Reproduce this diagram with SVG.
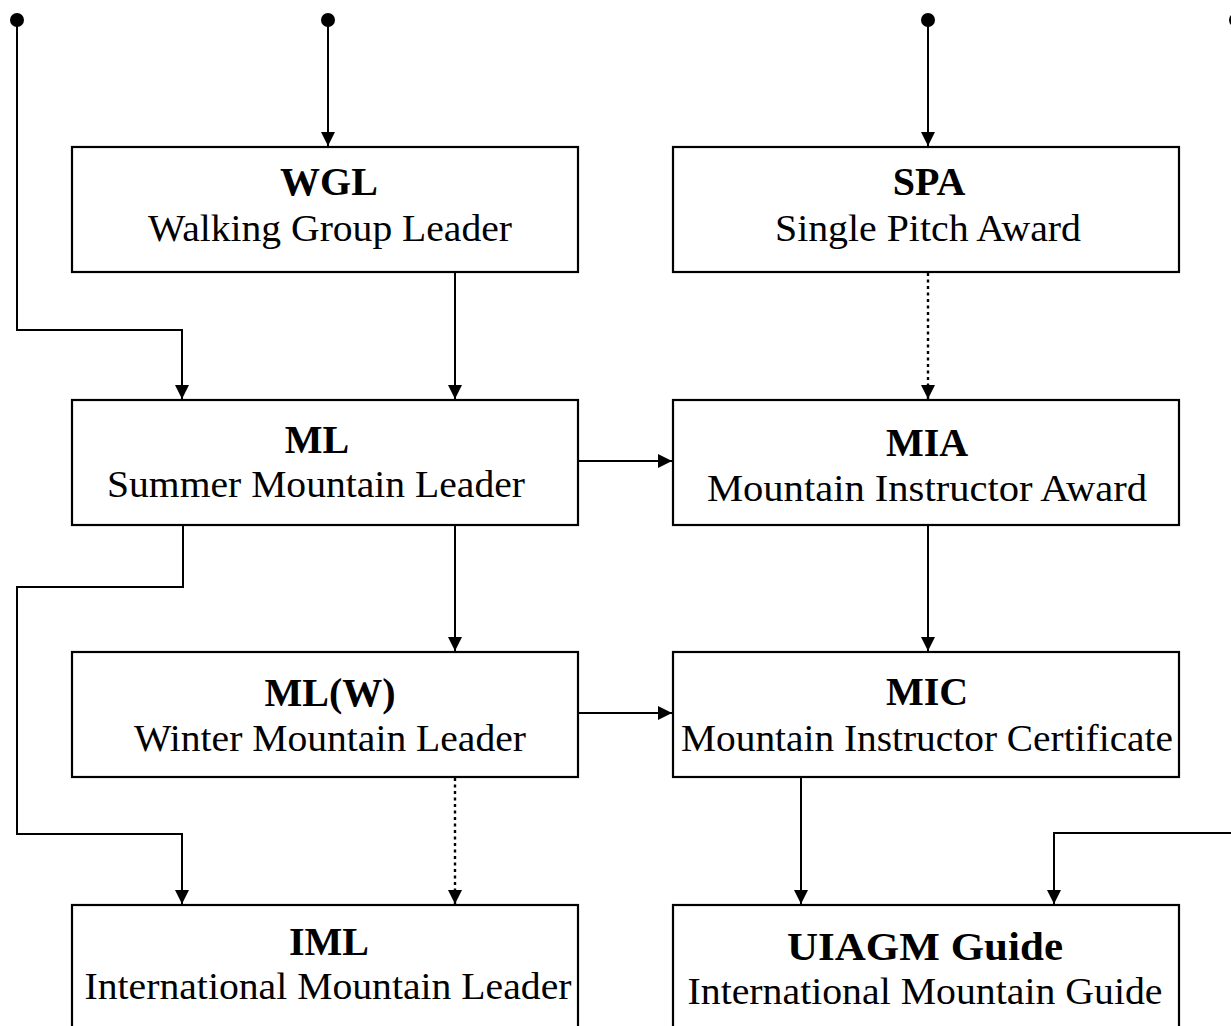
<svg xmlns="http://www.w3.org/2000/svg" width="1231" height="1026" viewBox="0 0 1231 1026">
<style>
.box{fill:#fff;stroke:#000;stroke-width:2.2}
.t{font-family:"Liberation Serif","Times New Roman",serif;font-weight:bold;font-size:40px;text-anchor:middle;fill:#000}
.s{font-family:"Liberation Serif","Times New Roman",serif;font-size:38px;text-anchor:middle;fill:#000}
.c{fill:none;stroke:#000;stroke-width:2}
.d{fill:none;stroke:#000;stroke-width:2.4;stroke-dasharray:3 3.5}
</style>
<defs>
<marker id="ah" viewBox="0 0 14 14" refX="14" refY="7" markerWidth="14" markerHeight="14" markerUnits="userSpaceOnUse" orient="auto">
<path d="M0,0 L14,7 L0,14 Z" fill="#000"/>
</marker>
</defs>
<rect width="1231" height="1026" fill="#fff"/>
<g id="connectors">
<circle cx="17" cy="20" r="7" fill="#000"/>
<circle cx="328" cy="20" r="7" fill="#000"/>
<circle cx="928" cy="20" r="7" fill="#000"/>
<circle cx="1236" cy="20" r="7" fill="#000"/>
<path class="c" d="M17,20 V330 H182 V399" marker-end="url(#ah)"/>
<path class="c" d="M328,20 V146" marker-end="url(#ah)"/>
<path class="c" d="M928,20 V146" marker-end="url(#ah)"/>
<path class="c" d="M455,272 V399" marker-end="url(#ah)"/>
<path class="d" d="M928,273 V399" marker-end="url(#ah)"/>
<path class="c" d="M578,461 H672" marker-end="url(#ah)"/>
<path class="c" d="M183,525 V587 H17 V834 H182 V904" marker-end="url(#ah)"/>
<path class="c" d="M455,525 V651" marker-end="url(#ah)"/>
<path class="c" d="M928,525 V651" marker-end="url(#ah)"/>
<path class="c" d="M578,713 H672" marker-end="url(#ah)"/>
<path class="d" d="M455,778 V904" marker-end="url(#ah)"/>
<path class="c" d="M801,777 V904" marker-end="url(#ah)"/>
<path class="c" d="M1231,833 H1054 V904" marker-end="url(#ah)"/>
</g>
<g id="WGL">
<rect class="box" x="72" y="147" width="506" height="125"/>
<text class="t" x="329" y="195">WGL</text>
<text class="s" x="330" y="241" textLength="364" lengthAdjust="spacingAndGlyphs">Walking Group Leader</text>
</g>
<g id="SPA">
<rect class="box" x="673" y="147" width="506" height="125"/>
<text class="t" x="929" y="195">SPA</text>
<text class="s" x="928" y="241" textLength="306" lengthAdjust="spacingAndGlyphs">Single Pitch Award</text>
</g>
<g id="ML">
<rect class="box" x="72" y="400" width="506" height="125"/>
<text class="t" x="317" y="453">ML</text>
<text class="s" x="316" y="497" textLength="418" lengthAdjust="spacingAndGlyphs">Summer Mountain Leader</text>
</g>
<g id="MIA">
<rect class="box" x="673" y="400" width="506" height="125"/>
<text class="t" x="927" y="456">MIA</text>
<text class="s" x="927" y="501" textLength="440" lengthAdjust="spacingAndGlyphs">Mountain Instructor Award</text>
</g>
<g id="MLW">
<rect class="box" x="72" y="652" width="506" height="125"/>
<text class="t" x="330" y="706">ML(W)</text>
<text class="s" x="330" y="751" textLength="392" lengthAdjust="spacingAndGlyphs">Winter Mountain Leader</text>
</g>
<g id="MIC">
<rect class="box" x="673" y="652" width="506" height="125"/>
<text class="t" x="927" y="705">MIC</text>
<text class="s" x="927" y="751" textLength="492" lengthAdjust="spacingAndGlyphs">Mountain Instructor Certificate</text>
</g>
<g id="IML">
<rect class="box" x="72" y="905" width="506" height="130"/>
<text class="t" x="329" y="955">IML</text>
<text class="s" x="328" y="999" textLength="487" lengthAdjust="spacingAndGlyphs">International Mountain Leader</text>
</g>
<g id="UIAGM">
<rect class="box" x="673" y="905" width="506" height="130"/>
<text class="t" x="925" y="960" textLength="276" lengthAdjust="spacingAndGlyphs">UIAGM Guide</text>
<text class="s" x="925" y="1004" textLength="475" lengthAdjust="spacingAndGlyphs">International Mountain Guide</text>
</g>
</svg>
